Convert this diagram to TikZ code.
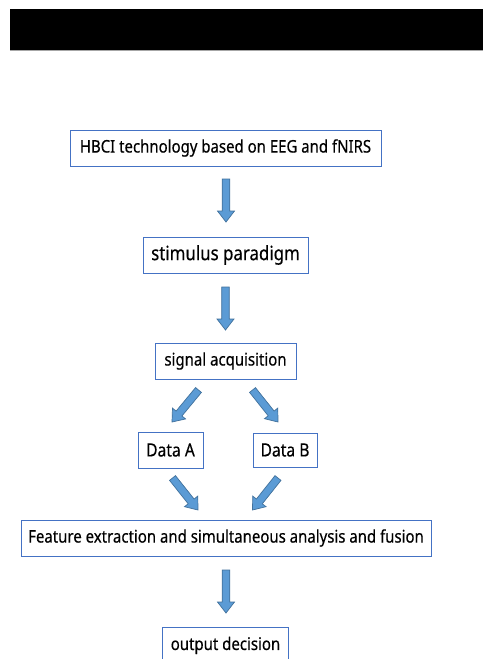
\documentclass[tikz,border=0pt]{standalone}
\usepackage{fontspec}
\setmainfont[FakeStretch=0.86,FakeBold=0.35]{Noto Sans}
\usetikzlibrary{calc}
\definecolor{boxblue}{HTML}{4472C4}
\definecolor{arrfill}{HTML}{5B9BD5}
\definecolor{arrline}{HTML}{41719C}
\tikzset{
  box/.style={draw=boxblue, line width=0.9pt, fill=white, inner sep=0pt, minimum height=36pt, text=black},
  bodyfont/.style={font=\fontsize{17.4}{20}\selectfont},
  barrowstyle/.style={fill=arrfill, draw=arrline, line width=0.7pt, line join=miter}
}
\newcommand\blockarrow[2]{%
  \path let \p1=($(#2)-(#1)$), \n1={atan2(\y1,\x1)}, \n2={veclen(\x1,\y1)} in
    \pgfextra{\xdef\barang{\n1}\xdef\barlen{\n2}};
  \draw[barrowstyle, shift={(#1)}, rotate=\barang]
    (0,-3.8) -- ({\barlen-11},-3.8) -- ({\barlen-11},-8.5) -- (\barlen,0)
    -- ({\barlen-11},8.5) -- ({\barlen-11},3.8) -- (0,3.8) -- cycle;
}
\begin{document}
\begin{tikzpicture}[x=1pt,y=-1pt]
\useasboundingbox (0,0) rectangle (483,659);
\fill[white] (0,0) rectangle (483,659);
% top black bar
\fill[black] (10,9) rectangle (483,50);
\draw[gray!70, line width=0.8pt] (10,50) -- (483,50);
% boxes
\node[box, bodyfont, minimum width=311pt] (hbci) at (225.5,148) {HBCI technology based on EEG and fNIRS};
\node[box, minimum width=165pt, font=\fontsize{19.6}{23}\selectfont] (stim) at (225.5,255) {stimulus paradigm};
\node[box, bodyfont, minimum width=141pt] (sig) at (225.5,361) {signal acquisition};
\node[box, minimum width=65pt, font=\fontsize{18.2}{21}\selectfont] (da) at (170.5,450) {Data A};
\node[box, minimum width=64pt, minimum height=34pt, font=\fontsize{18.2}{21}\selectfont] (db) at (285,450) {Data B};
\node[box, bodyfont, minimum width=410pt] (feat) at (226,538) {Feature extraction and simultaneous analysis and fusion};
\node[box, bodyfont, minimum width=126pt, anchor=north] (out) at (225.5,627) {output decision};
% arrow end points
\coordinate (a1s) at (226,179);  \coordinate (a1e) at (226,222);
\coordinate (a2s) at (225.5,287); \coordinate (a2e) at (225.5,330);
\coordinate (a3s) at (198.5,390); \coordinate (a3e) at (172,422);
\coordinate (a4s) at (252.5,390); \coordinate (a4e) at (278,422);
\coordinate (a5s) at (172.5,478); \coordinate (a5e) at (198,510);
\coordinate (a6s) at (278,478);  \coordinate (a6e) at (252.5,510);
\coordinate (a7s) at (226,570);  \coordinate (a7e) at (226,613);
\blockarrow{a1s}{a1e}
\blockarrow{a2s}{a2e}
\blockarrow{a3s}{a3e}
\blockarrow{a4s}{a4e}
\blockarrow{a5s}{a5e}
\blockarrow{a6s}{a6e}
\blockarrow{a7s}{a7e}
\end{tikzpicture}
\end{document}
